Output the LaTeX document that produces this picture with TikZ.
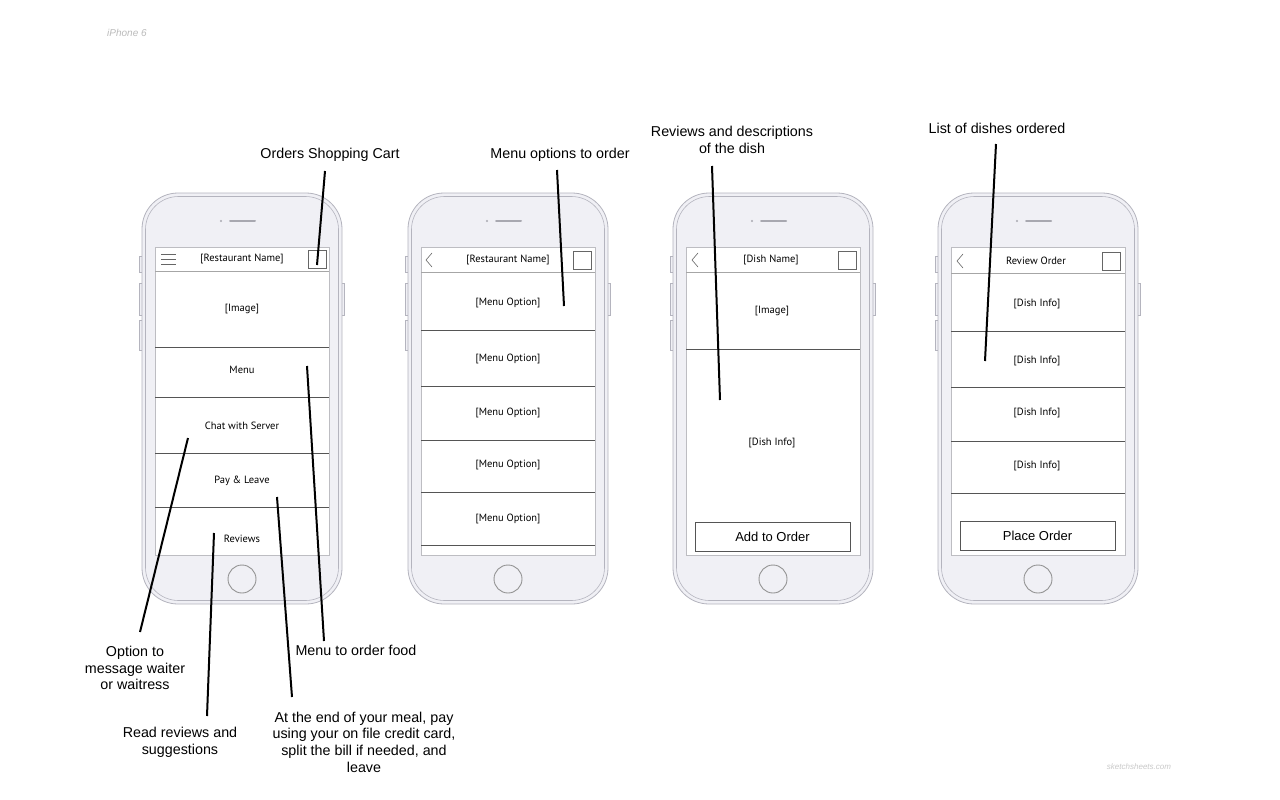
\documentclass[tikz,border=0pt]{standalone}
\usepackage{fontspec}
\setmainfont{Liberation Sans}
\newfontfamily\scr{PT Sans}
\definecolor{phonefill}{HTML}{F0F0F5}
\definecolor{phoneline}{HTML}{B4B4BE}
\definecolor{speaker}{HTML}{A8A8B0}
\definecolor{screenline}{HTML}{BDBDC2}
\definecolor{sepline}{HTML}{555555}
\definecolor{faint}{HTML}{BBBBBB}
\tikzset{
  x=1pt, y=-1pt,
  body/.style={draw=phoneline, fill=phonefill, line width=0.8pt, rounded corners=36pt},
  inner/.style={draw=phoneline, line width=0.6pt, rounded corners=33pt},
  sidebtn/.style={draw=phoneline, fill=phonefill, line width=0.6pt},
  screenbox/.style={draw=screenline, fill=white, line width=0.7pt},
  hdrline/.style={draw=gray!70, line width=0.6pt},
  rowline/.style={draw=sepline, line width=0.7pt},
  stxt/.style={font=\scr\fontsize{10.5}{12}\selectfont, inner sep=0pt},
  btnbox/.style={draw=sepline, fill=white, line width=0.7pt, minimum width=155pt, minimum height=29pt, font=\fontsize{13}{15}\selectfont},
  anntxt/.style={font=\fontsize{14.3}{16.7}\selectfont, align=center, inner sep=0pt},
  ann/.style={draw=black, line width=2pt},
  iconline/.style={draw=gray!80!black, line width=0.6pt},
}
\newcommand\drawphone[1]{%
\begin{scope}[xshift=#1pt]
  \draw[sidebtn] (139.5,256) rectangle (142.5,272);
  \draw[sidebtn] (139.5,283) rectangle (142.5,315);
  \draw[sidebtn] (139.5,320) rectangle (142.5,350);
  \draw[sidebtn] (341.5,283) rectangle (344.5,315);
  \draw[body] (142,193) rectangle (342,604);
  \draw[inner] (145.5,196.5) rectangle (338.5,600.5);
  \fill[speaker] (221,221) circle (1.2pt);
  \draw[speaker, line width=2pt, line cap=round] (230,221) -- (255,221);
  \draw[screenbox] (155,247) rectangle (329,555);
  \draw[draw=gray!85, line width=0.9pt] (242,579) circle (14pt);
\end{scope}}
\begin{document}
\begin{tikzpicture}
\useasboundingbox[fill=white] (0,0) rectangle (1280,800);
\node[font=\itshape\fontsize{10}{12}\selectfont, text=faint, anchor=west, inner sep=0pt] (title) at (107,33) {iPhone 6};
\node[font=\itshape\fontsize{8}{10}\selectfont, text=faint!80, inner sep=0pt] (credit) at (1139,767) {sketchsheets.com};

\drawphone{0}
\drawphone{266}
\drawphone{531}
\drawphone{796}

% ---------- Phone 1 ----------
\draw[hdrline] (155,271) -- (329,271);
\draw[iconline] (161,254) -- (176,254) (161,259) -- (176,259) (161,264) -- (176,264);
\node[draw=gray!80!black, line width=0.6pt, minimum size=18pt, inner sep=0pt] (p1cart) at (317,259) {};
\node[stxt] (p1title) at (242,259) {[Restaurant Name]};
\draw[rowline] (155,347) -- (329,347);
\draw[rowline] (155,397) -- (329,397);
\draw[rowline] (155,453) -- (329,453);
\draw[rowline] (155,507) -- (329,507);
\node[stxt] (p1img) at (242,309) {[Image]};
\node[stxt] (p1menu) at (242,370) {Menu};
\node[stxt] (p1chat) at (242,426) {Chat with Server};
\node[stxt] (p1pay) at (242,481) {Pay \& Leave};
\node[stxt] (p1rev) at (242,539) {Reviews};

% ---------- Phone 2 ----------
\draw[hdrline] (421,272) -- (595,272);
\draw[iconline] (432,253) -- (426,260) -- (432,267);
\node[draw=gray!80!black, line width=0.6pt, minimum size=18pt, inner sep=0pt] (p2cart) at (582,260) {};
\node[stxt] (p2title) at (508,260) {[Restaurant Name]};
\foreach \yy in {330,386,440,492,545} \draw[rowline] (421,\yy) -- (595,\yy);
\node[stxt] (p2o1) at (508,303) {[Menu Option]};
\node[stxt] (p2o2) at (508,359) {[Menu Option]};
\node[stxt] (p2o3) at (508,413) {[Menu Option]};
\node[stxt] (p2o4) at (508,465) {[Menu Option]};
\node[stxt] (p2o5) at (508,519) {[Menu Option]};

% ---------- Phone 3 ----------
\draw[hdrline] (686,272) -- (860,272);
\draw[iconline] (698,253) -- (692,260) -- (698,267);
\node[draw=gray!80!black, line width=0.6pt, minimum size=18pt, inner sep=0pt] (p3cart) at (847,260) {};
\node[stxt] (p3title) at (771,260) {[Dish Name]};
\draw[rowline] (686,349) -- (860,349);
\node[stxt] (p3img) at (772,311) {[Image]};
\node[stxt] (p3info) at (772,443) {[Dish Info]};
\node[btnbox] (p3btn) at (772.5,536.5) {Add to Order};

% ---------- Phone 4 ----------
\draw[hdrline] (951,273) -- (1125,273);
\draw[iconline] (963,254) -- (957,261) -- (963,268);
\node[draw=gray!80!black, line width=0.6pt, minimum size=18pt, inner sep=0pt] (p4cart) at (1111,261) {};
\node[stxt] (p4title) at (1036,261) {Review Order};
\foreach \yy in {331,387,441,493} \draw[rowline] (951,\yy) -- (1125,\yy);
\node[stxt] (p4d1) at (1037,304) {[Dish Info]};
\node[stxt] (p4d2) at (1037,361) {[Dish Info]};
\node[stxt] (p4d3) at (1037,413) {[Dish Info]};
\node[stxt] (p4d4) at (1037,466) {[Dish Info]};
\node[btnbox] (p4btn) at (1037.5,535.5) {Place Order};

% ---------- Annotations ----------
\node[anntxt] (lcart) at (330,155) {Orders Shopping Cart};
\coordinate (a1s) at (325,171);
\coordinate (a1e) at (317,265);
\draw[ann] (a1s) -- (a1e);

\node[anntxt] (lmenuopt) at (560,155) {Menu options to order};
\coordinate (a2s) at (557,170);
\coordinate (a2e) at (564,306);
\draw[ann] (a2s) -- (a2e);

\node[anntxt] (lreviews) at (732,140) {Reviews and descriptions\\of the dish};
\coordinate (a3s) at (712,166);
\coordinate (a3e) at (720,400);
\draw[ann] (a3s) -- (a3e);

\node[anntxt] (llist) at (997,128) {List of dishes ordered};
\coordinate (a4s) at (996,144);
\coordinate (a4e) at (985,361);
\draw[ann] (a4s) -- (a4e);

\node[anntxt] (lmenufood) at (356,650) {Menu to order food};
\coordinate (a5s) at (307,366);
\coordinate (a5e) at (324,641);
\draw[ann] (a5s) -- (a5e);

\node[anntxt] (lchat) at (135,668) {Option to\\message waiter\\or waitress};
\coordinate (a6s) at (188,438);
\coordinate (a6e) at (140,632);
\draw[ann] (a6s) -- (a6e);

\node[anntxt] (lpay) at (364,742) {At the end of your meal, pay\\using your on file credit card,\\split the bill if needed, and\\leave};
\coordinate (a7s) at (277,497);
\coordinate (a7e) at (292,697);
\draw[ann] (a7s) -- (a7e);

\node[anntxt] (lrev) at (180,742) {Read reviews and\\suggestions};
\coordinate (a8s) at (214,533);
\coordinate (a8e) at (207,716);
\draw[ann] (a8s) -- (a8e);
\end{tikzpicture}
\end{document}
